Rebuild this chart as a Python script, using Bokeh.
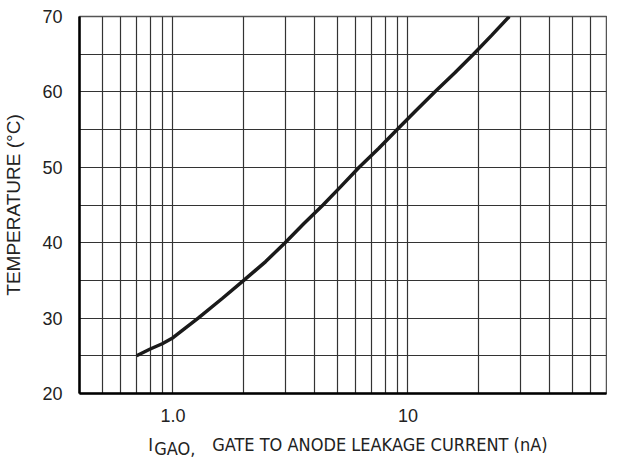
from bokeh.plotting import figure
from bokeh.layouts import column
from bokeh.models import FixedTicker, Range1d
from bokeh.core.properties import value
from bokeh.embed import file_html
from bokeh.resources import INLINE

# Data
current_na = [0.7, 0.8, 0.9, 1.0, 1.28, 1.62, 2.0, 2.48, 3.0, 3.6, 4.35, 5.2,
              6.2, 7.5, 9.0, 10.8, 13.0, 15.8, 19.0, 22.7, 27.0]
temperature_c = [25, 25.9, 26.6, 27.4, 30, 32.6, 35, 37.5, 40, 42.5, 45, 47.5,
                 50, 52.5, 55, 57.5, 60, 62.5, 65, 67.5, 70]

x_major = [1, 10]
x_major_labels = {1: "1.0", 10: "10"}
x_minor = [0.5, 0.6, 0.7, 0.8, 0.9, 2, 3, 4, 5, 6, 7, 8, 9, 20, 30, 40, 50, 60]
y_major = [20, 30, 40, 50, 60, 70]
y_minor = [25, 35, 45, 55, 65]

x_label_parts = ["I", "GAO,", "GATE TO ANODE LEAKAGE CURRENT (nA)"]
y_label = "TEMPERATURE (°C)"

SANS = "Liberation Sans"
COND = "DejaVu Sans Condensed"
TXT = "#222222"

LEFT, WIDTH, RIGHT = 70, 607, 1

p = figure(width=WIDTH, height=424, x_axis_type="log",
           x_range=Range1d(0.4, 70), y_range=Range1d(20, 70),
           output_backend="svg", toolbar_location=None,
           min_border_left=LEFT, min_border_right=RIGHT,
           min_border_top=16, min_border_bottom=28)
p.background_fill_color = "white"
p.border_fill_color = "white"
p.outline_line_color = "#555555"
p.outline_line_width = 1.5

p.xaxis.ticker = FixedTicker(ticks=x_major, minor_ticks=x_minor)
p.yaxis.ticker = FixedTicker(ticks=y_major, minor_ticks=y_minor)
p.xaxis.major_label_overrides = x_major_labels

for ax in (p.xaxis, p.yaxis):
    ax.axis_line_color = "black"
    ax.axis_line_width = 2.5
    ax.major_tick_line_color = None
    ax.minor_tick_line_color = None
    ax.major_label_text_font = SANS
    ax.major_label_text_font_size = "18px"
    ax.major_label_text_color = TXT
p.xaxis.major_label_standoff = 9
p.yaxis.major_label_standoff = 11

p.yaxis.axis_label = y_label
p.yaxis.axis_label_text_font = SANS
p.yaxis.axis_label_text_font_size = "19px"
p.yaxis.axis_label_text_font_style = "normal"
p.yaxis.axis_label_text_color = TXT
p.yaxis.axis_label_standoff = 15

for g in (p.xgrid, p.ygrid):
    g.grid_line_color = "#333333"
    g.grid_line_width = 1.2
    g.minor_grid_line_color = "#333333"
    g.minor_grid_line_width = 1.2

p.line(current_na, temperature_c, line_color="#1a1a1a", line_width=3.5)

# x-axis title (with subscript) drawn in a strip below the plot; the strip's
# frame is aligned with the main frame by the column layout, so its x range is
# given in canvas pixels of that frame.
q = figure(width=WIDTH, height=34,
           x_range=Range1d(LEFT, WIDTH - RIGHT), y_range=Range1d(0, 34),
           x_axis_location=None, y_axis_location=None,
           output_backend="svg", toolbar_location=None,
           min_border_left=LEFT, min_border_right=RIGHT,
           min_border_top=0, min_border_bottom=0)
q.grid.visible = False
q.outline_line_color = None
q.background_fill_color = "white"
q.border_fill_color = "white"
tk = dict(text_font=value(COND), text_font_size="18px", text_color=TXT,
          text_align="left", text_baseline="alphabetic")
q.text(x=[140], y=[14], text=[x_label_parts[0]], **tk)
q.text(x=[146], y=[10], text=[x_label_parts[1]], **tk)
q.text(x=[205], y=[14], text=[x_label_parts[2]], **tk)

layout = column(p, q, spacing=0)
open("out.html", "w").write(file_html(layout, INLINE))
